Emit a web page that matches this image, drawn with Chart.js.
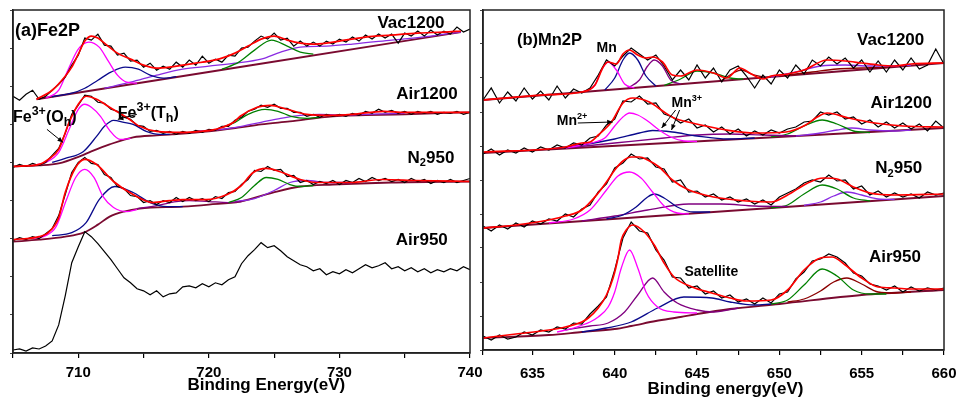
<!DOCTYPE html>
<html>
<head>
<meta charset="utf-8">
<script src="https://cdn.jsdelivr.net/npm/chart.js@4.4.1/dist/chart.umd.min.js"></script>
<style>
  body { margin: 0; background: #fff; }
  canvas { position: absolute; left: 0; top: 0; }
</style>
</head>
<body>
<canvas id="fe" width="972" height="398"></canvas>
<canvas id="mn" width="972" height="398"></canvas>
<script>
// ---------- Fe 2p (left panel) ----------
const feEnergy = [705,705.5,706,706.5,707,707.5,708,708.5,709,709.5,
  710,710.5,711,711.5,712,712.5,713,713.5,714,714.5,
  715,715.5,716,716.5,717,717.5,718,718.5,719,719.5,
  720,720.5,721,721.5,722,722.5,723,723.5,724,724.5,
  725,725.5,726,726.5,727,727.5,728,728.5,729,729.5,
  730,730.5,731,731.5,732,732.5,733,733.5,734,734.5,
  735,735.5,736,736.5,737,737.5,738,738.5,739,739.5,740];
const feVac1200 = [256,252,258,262,253,256,262,268,275,287,
  297,314,312,318,307,306,297,299,291,292,
  285,289,282,286,283,290,285,292,287,296,
  289,293,290,297,296,304,305,311,316,313,
  319,312,314,306,311,306,310,306,311,308,
  313,310,315,311,317,313,318,314,318,309,
  319,316,321,316,322,317,321,318,325,320,323];
const feAir1200 = [185,188,186,189,187,190,197,204,219,238,
  247,257,256,250,249,243,241,235,233,227,
  226,221,222,219,221,218,221,219,222,220,
  223,222,226,226,232,235,241,243,247,245,
  248,244,244,240,240,236,238,235,238,236,
  238,236,239,237,241,239,243,240,242,239,
  241,238,241,239,241,238,240,239,241,238,240];
const feN2950 = [112,115,113,116,114,119,124,137,158,180,
  190,195,189,188,178,175,166,164,157,156,
  150,152,148,152,150,155,151,155,152,154,
  151,156,154,160,161,168,173,182,181,186,
  182,183,176,177,170,172,168,171,169,172,
  168,172,170,174,171,175,172,174,171,173,
  170,174,171,173,169,172,170,173,170,172,174];
const feAir950 = [3,4,2,5,4,7,12,28,57,90,
  106,121,116,109,101,93,84,75,70,64,
  62,58,62,56,59,60,66,67,65,69,
  66,70,68,73,76,89,97,103,110,105,
  107,102,96,92,88,86,82,84,78,81,
  79,83,80,84,88,85,87,90,84,86,
  82,85,81,84,80,83,81,84,82,86,83];

// fitted curves [energy, intensity]
const vacFeFit = [[706.8,253],[708,262],[709,276],[709.5,285],[710,298],[710.5,311],[711,316],[711.5,314],[712,309],[713,299],[714,293],[715,287],[716,284],[717,285],[718,287],[719,289],[720,291],[721,294],[722,299],[723,306],[724,313],[725,316],[726,312],[727,309],[728,308],[729,309],[730,311],[732,315],[734,317],[736,319],[738,320],[739.3,321]];
const vacFeBase = [[706.8,253],[723,286.4],[739.3,320]];
const vacFeOh = [[707.5,254],[708.5,262],[709.2,282],[710,303],[710.8,310],[711.6,305],[712.3,291],[713,277],[713.7,270],[714.5,269]];
const vacFeTh = [[708,255.5],[709.5,259],[710.5,264],[711.5,272],[712.5,280],[713.6,285],[714.6,283],[715.5,277],[716.5,274],[717.5,275.5]];
const vacFeSat = [[712,264],[714,270],[716,277],[718,283],[720,286],[722,289],[724,293],[725.5,300],[727,305],[729,306],[731,308],[734,312],[737,316],[739.3,320]];
const vacFeP12 = [[721,283],[722.3,290],[723.5,302],[724.8,312],[726,306],[727,300],[728,298]];

const airFeFit = [[705,186],[707,188],[707.7,193],[708.5,203],[709.3,230],[710,248],[710.6,256],[711.4,253],[712.4,245],[713.7,235],[714.7,226],[716,221],[718,220],[719.3,221],[720.5,223],[721.9,230],[722.4,236],[723.7,245],[724.7,247],[726,243],[727.5,238],[729.5,237],[731,238],[733.4,241],[735,240],[737,240],[740,240]];
const airFeBase = [[705,186],[707,187],[708.5,189],[710.1,196],[711,201],[712.4,208],[714.2,215],[716,217],[717.2,218],[720,221],[722.4,225],[724,228],[726.2,231],[729.5,236],[735,238],[740,240]];
const airFeOh = [[706.5,187],[707.5,190],[708.5,200],[709.3,223],[710,243],[710.5,248],[711,245],[711.7,236],[712.4,222],[713.2,213],[714,214]];
const airFeTh = [[708,190],[709,194],[710.4,201],[711.4,216],[712,226],[712.7,232],[713.5,230],[714.2,228],[715.2,221],[716.2,218],[717,218]];
const airFeP12 = [[721,225],[722,230],[723,238],[724.3,243],[725.3,241],[726.3,236],[727.5,234],[728.5,235]];
const airFeSat = [[719,221],[721,223],[722.5,226],[724,230],[725.5,234],[727,237],[728.5,238],[730,237.5],[732,238],[735,239]];

const n2FeFit = [[705,113],[707,116],[707.7,120],[708.5,135],[709,160],[709.8,185],[710.5,193],[711.4,188],[712.7,171],[714.2,158],[715.7,150],[717,152],[718,153],[719.8,153],[721.4,158],[722.4,166],[723.4,180],[724.4,184],[725.4,181],[727,173],[728.2,170],[730.8,170],[733.3,173],[735.9,172],[740,171]];
const n2FeBase = [[705,111],[707,113],[709,116],[710.4,120],[711.5,128],[712.4,136],[713.5,141],[714.7,144],[718,146],[720,148],[722.4,151],[724.9,160],[727,166],[729.5,168],[734,170],[740,171]];
const n2FeOh = [[706.5,114],[707.5,117],[708.3,126],[709.1,153],[709.8,175],[710.5,183],[711.2,175],[711.9,156],[712.7,145],[713.7,141],[714.5,143]];
const n2FeTh = [[708,117],[709.5,120],[710.6,130],[711.6,153],[712.8,166],[714.2,160],[715.5,150],[716.8,146],[718,146]];
const n2FeSat1 = [[714.5,144],[716,147],[717.5,151],[718.5,152],[720,151],[721.5,150],[722.5,151]];
const n2FeP12 = [[721.5,150],[722.5,155],[723.5,167],[724.4,175],[725.3,173],[726.2,168],[727,166],[728,167]];
const n2FeSat2 = [[722,151],[723.5,154],[725,162],[726.2,170],[727.5,172],[729,170],[731,170]];

// ---------- Mn 2p (right panel) ----------
const mnEnergy = [632,632.5,633,633.5,634,634.5,635,635.5,636,636.5,
  637,637.5,638,638.5,639,639.5,640,640.5,641,641.5,
  642,642.5,643,643.5,644,644.5,645,645.5,646,646.5,
  647,647.5,648,648.5,649,649.5,650,650.5,651,651.5,
  652,652.5,653,653.5,654,654.5,655,655.5,656,656.5,
  657,657.5,658,658.5,659,659.5,660];
const mnVac1200 = [250,262,247,258,249,262,251,259,250,264,
  252,261,257,262,275,290,284,294,302,296,
  290,295,284,270,280,270,285,272,282,268,
  280,284,274,262,275,266,280,272,285,276,
  290,284,293,286,292,282,290,278,289,278,
  290,280,292,281,285,301,286];
const mnAir1200 = [196,201,195,200,197,202,198,203,200,205,
  202,207,205,212,214,225,231,249,248,254,
  246,247,236,233,227,231,222,225,218,223,
  216,221,214,219,215,220,217,221,223,228,
  229,238,235,238,231,233,226,230,223,228,
  222,227,221,226,219,229,222];
const mnN2950 = [124,119,125,121,127,123,129,126,131,129,
  136,133,141,145,158,166,182,187,196,191,
  192,183,181,168,170,158,159,153,156,150,
  153,148,151,146,150,145,153,157,161,167,
  170,168,175,169,170,161,164,155,159,153,
  157,153,156,152,158,155,157];
const mnAir950 = [14,10,15,11,13,18,15,20,18,23,
  21,27,26,36,44,53,80,112,128,119,
  117,100,90,73,72,62,64,56,59,52,
  55,48,51,46,52,47,56,58,71,78,
  89,91,96,93,87,77,74,66,64,60,
  64,58,63,59,62,60,62];

const vacMnFit = [[632,250],[636,255.3],[638,258],[638.8,265],[639.3,283],[639.6,288],[640.1,286],[640.5,296],[640.9,300],[641.4,295],[641.9,292],[642.3,293],[642.9,288],[643.5,275],[644,274],[645,280],[646,277],[646.8,272],[647.6,282],[648.3,276],[649,271],[649.5,274],[650.5,276],[651.5,280],[652.9,290],[654,289],[655,287],[656,285],[657,284],[658,286],[660,287]];
const vacMnBase = [[632,250],[646,268.5],[660,287]];
const vacMnMetal = [[638,258],[638.8,265],[639.2,280],[639.6,288],[640.1,280],[640.6,266],[641.2,262]];
const vacMnP1 = [[639.4,260],[640,272],[640.5,290],[640.9,297],[641.4,290],[641.9,274],[642.5,264]];
const vacMnP2 = [[640.8,262],[641.5,270],[642,284],[642.4,290],[642.9,284],[643.4,270],[644,266]];
const vacMnSat = [[643,264.5],[644,271],[645,279],[646,277],[647,272],[647.8,271]];
const vacMnSat2 = [[646.5,269.5],[647.2,277],[647.7,280],[648.3,276],[649,273]];
const vacMnP12a = [[649.5,273],[651,278],[652.5,284],[654,285],[655.5,284],[657,284],[658,285]];
const vacMnP12b = [[650,274],[652,278],[653.5,281],[655,282],[656.5,283],[658,285]];

const a12MnFit = [[632,198],[636,201],[637,203],[638,207],[638.5,208],[639,215],[639.8,228],[640.5,247],[641.1,252],[642.1,248],[643,238],[643.6,232],[644.7,227],[646.8,220],[648.5,217],[650.4,218],[651.6,225],[652.3,233],[652.9,237],[654.2,232],[655.8,227],[657.5,224],[660,223]];
const a12MnBase = [[632,197],[646,209.5],[660,222]];
const a12MnP2 = [[637,202],[638,205],[638.8,208],[639.4,212],[640,224],[640.5,233],[640.9,237],[641.4,235],[642,229],[642.7,220],[643.4,213],[644.2,209],[645,208.5]];
const a12MnP3 = [[636,201],[638,205],[640,211],[641.5,217],[642.3,219.5],[643.5,218],[645,214],[646.9,211],[648.5,212]];
const a12MnSat = [[637,202],[640,207],[643,212],[645,215],[647,216],[649,215],[651,214]];
const a12MnP12a = [[649.5,213],[650.5,216],[651.5,224],[652.6,230],[653.5,226],[654.5,219],[655.5,217.5]];
const a12MnP12b = [[651,214],[652.5,217],[653.5,220],[654.4,222],[655.5,220],[657,219],[658,220]];

const n2MnFit = [[632,122],[634,125],[636,130],[637,134],[638,140],[639,157],[639.5,168],[640,180],[640.5,189],[641,193],[641.5,193],[642,190],[642.7,183],[643.5,170],[644.5,160],[646,153],[648,149],[649.5,148],[650.5,155],[651.5,165],[652.3,171],[652.7,172],[653.5,171],[654.5,163],[655.5,157],[657,155],[660,156]];
const n2MnBase = [[632,122],[646,138],[660,154]];
const n2MnP2 = [[636,127],[637.5,131],[638.5,140],[639.5,160],[640.2,174],[640.9,178],[641.6,172],[642.3,158],[643,144],[643.8,137],[644.5,136]];
const n2MnP3 = [[639.5,131],[640.5,135],[641.3,143],[642,153],[642.4,156],[643,152],[643.8,143],[644.8,138],[645.8,138]];
const n2MnSat = [[638,129],[640,134],[642,140],[644.5,146],[646.5,146],[648.5,144],[650.5,143.5]];
const n2MnP12a = [[649.5,142],[650.5,145],[651.5,156],[652.6,165],[653.5,161],[654.5,152],[655.5,149]];
const n2MnP12b = [[651.5,144.5],[652.5,148],[653.3,154],[654.1,158],[655,155],[656,151],[657,150.5]];

const a9MnFit = [[632,12],[634,16],[636,20],[637,23],[638,28],[638.4,32],[639,42],[639.5,55],[639.9,72],[640.2,92],[640.4,110],[640.7,120],[641.1,125],[641.8,118],[642.4,105],[643,87],[643.6,73],[644.7,63],[645.9,57],[647,52],[648,49],[649.5,50],[650.5,60],[651.5,80],[652.5,92],[653.2,93],[654,85],[655,72],[656,63],[657,62],[658,61],[660,61]];
const a9MnBase = [[632,12],[636,15],[638,18],[640,21],[641,24],[642.5,29],[644,33],[645,36],[647,41],[650,46],[655,55],[660,60]];
const a9MnP2 = [[636.5,18],[637.5,22],[638.5,28],[639,33],[639.6,43],[640,58],[640.4,82],[640.9,100],[641.4,82],[641.9,58],[642.6,43],[643.6,38],[645,37]];
const a9MnP3 = [[637,20],[638.5,24],[639.6,27],[640.6,38],[641.4,55],[642.3,72],[643,58],[643.8,47],[645,40],[646,38],[647.5,42]];
const a9MnSat = [[638,18],[639.5,22],[641,28],[642.6,42],[644.2,53],[645.9,52],[647,48],[648.5,45],[649.5,46]];
const a9MnP12a = [[649.5,46],[650.5,50],[651.5,65],[652.6,81],[653.5,74],[654.5,60],[655.5,56],[656.5,56]];
const a9MnP12b = [[650.5,48],[651.5,51],[652.5,59],[653.3,68],[654.1,72],[655,66],[656,58],[657,57],[658,58]];

// colours
const RED = '#ff0000', PINK = '#ff00ff', NAVY = '#0a0a8c', PURPLE = '#800080',
      VIOLET = '#8a2be2', GREEN = '#008000', MAROON = '#7a0a30', BROWN = '#8b0000';
const FONT = '"Liberation Sans", Arial, sans-serif';

function pts(arr) { return arr.map(p => ({ x: p[0], y: p[1] })); }
function raw(energy, vals) { return energy.map((e, i) => ({ x: e, y: vals[i] })); }
function fitLine(arr, color, w) {
  return { data: pts(arr), borderColor: color, borderWidth: w || 1.3, pointRadius: 0, fill: false, cubicInterpolationMode: 'monotone' };
}
function expLine(energy, vals) {
  return { data: raw(energy, vals), borderColor: '#000', borderWidth: 1.2, pointRadius: 0, fill: false, tension: 0 };
}

// text + frame + arrows
const decor = {
  id: 'decor',
  afterDatasetsDraw(chart, args, opts) {
    const { ctx, chartArea: a } = chart;
    const sx = chart.scales.x, sy = chart.scales.y;
    ctx.save();
    ctx.strokeStyle = '#222';
    ctx.lineWidth = 1.5;
    ctx.strokeRect(a.left, a.top, a.right - a.left, a.bottom - a.top);
    ctx.fillStyle = '#000';
    ctx.textBaseline = 'alphabetic';
    opts.labels.forEach(lb => {
      const size = lb.size;
      const small = lb.small || 0.65;
      const pieces = lb.parts.map(p => {
        const kind = p[1] || '';
        const fs = kind ? size * small : size;
        ctx.font = 'bold ' + fs + 'px ' + FONT;
        return { t: p[0], kind: kind, fs: fs, w: ctx.measureText(p[0]).width };
      });
      const total = pieces.reduce((s, p) => s + p.w, 0);
      let px = sx.getPixelForValue(lb.e);
      if (lb.align === 'right') px -= total;
      const base = sy.getPixelForValue(lb.v) + size * 0.36;
      pieces.forEach(p => {
        ctx.font = 'bold ' + p.fs + 'px ' + FONT;
        let y = base;
        if (p.kind === 'sup') y -= size * 0.42;
        if (p.kind === 'sub') y += size * 0.22;
        ctx.fillText(p.t, px, y);
        px += p.w;
      });
    });
    ctx.lineWidth = 1;
    ctx.strokeStyle = '#000';
    opts.arrows.forEach(ar => {
      const x0 = sx.getPixelForValue(ar[0][0]), y0 = sy.getPixelForValue(ar[0][1]);
      const x1 = sx.getPixelForValue(ar[1][0]), y1 = sy.getPixelForValue(ar[1][1]);
      const ang = Math.atan2(y1 - y0, x1 - x0);
      ctx.beginPath(); ctx.moveTo(x0, y0); ctx.lineTo(x1, y1); ctx.stroke();
      ctx.beginPath();
      ctx.moveTo(x1, y1);
      ctx.lineTo(x1 - 6 * Math.cos(ang - 0.4), y1 - 6 * Math.sin(ang - 0.4));
      ctx.lineTo(x1 - 6 * Math.cos(ang + 0.4), y1 - 6 * Math.sin(ang + 0.4));
      ctx.closePath(); ctx.fill();
    });
    ctx.font = 'bold 17px ' + FONT;
    ctx.textAlign = 'center';
    ctx.fillText(opts.title, sx.getPixelForValue(opts.titleAt), a.bottom + opts.titleDy);
    ctx.restore();
  }
};

function makeOptions(o) {
  return {
    responsive: false,
    animation: false,
    events: [],
    layout: { padding: o.padding },
    plugins: { legend: { display: false }, tooltip: { enabled: false }, decor: o.decor },
    scales: {
      x: {
        type: 'linear', min: o.xmin, max: o.xmax,
        ticks: {
          stepSize: o.xstep, autoSkip: false, maxRotation: 0, color: '#000', padding: o.tickPad,
          font: { family: FONT, size: 15, weight: 'bold' },
          callback: v => (Math.abs(v % o.labelEvery) < 1e-6 ? String(v) : '')
        },
        grid: { drawOnChartArea: false, tickLength: 5, color: '#000', lineWidth: 1.2 },
        border: { color: '#222', width: 1.5 },
        afterFit: s => { s.height = o.xHeight; }
      },
      y: {
        min: 0, max: o.ymax,
        ticks: { display: false, stepSize: o.ystep },
        grid: { drawOnChartArea: false, tickLength: 3, color: '#444', lineWidth: 1 },
        border: { color: '#222', width: 1.5 },
        afterFit: s => { s.width = 4; }
      }
    }
  };
}

new Chart(document.getElementById('fe'), {
  type: 'line',
  data: {
    datasets: [
      fitLine(vacFeFit, RED, 1.7), fitLine(airFeFit, RED, 1.7), fitLine(n2FeFit, RED, 1.7),
      expLine(feEnergy, feVac1200), expLine(feEnergy, feAir1200), expLine(feEnergy, feN2950), expLine(feEnergy, feAir950),
      fitLine(vacFeOh, PINK), fitLine(vacFeTh, NAVY), fitLine(vacFeP12, GREEN), fitLine(vacFeSat, VIOLET),
      fitLine(airFeOh, PINK), fitLine(airFeTh, NAVY), fitLine(airFeP12, GREEN), fitLine(airFeSat, VIOLET),
      fitLine(n2FeOh, PINK), fitLine(n2FeTh, NAVY), fitLine(n2FeP12, GREEN), fitLine(n2FeSat1, PURPLE), fitLine(n2FeSat2, VIOLET),
      fitLine(vacFeBase, MAROON, 1.8), fitLine(airFeBase, MAROON, 1.8), fitLine(n2FeBase, MAROON, 1.8)
    ]
  },
  options: makeOptions({
    padding: { left: 9, right: 502, top: 10, bottom: 0 },
    xmin: 705, xmax: 740, xstep: 5, labelEvery: 10, tickPad: 6, xHeight: 45,
    ymax: 342, ystep: 38,
    decor: {
      title: 'Binding Energy(eV)', titleAt: 724.4, titleDy: 37,
      labels: [
        { e: 705.15, v: 323, align: 'left', size: 18, parts: [['(a)Fe2P']] },
        { e: 738.05, v: 330, align: 'right', size: 17, parts: [['Vac1200']] },
        { e: 739.05, v: 259, align: 'right', size: 17, parts: [['Air1200']] },
        { e: 738.8, v: 196, align: 'right', size: 17, parts: [['N'], ['2', 'sub'], ['950']] },
        { e: 738.3, v: 114, align: 'right', size: 17, parts: [['Air950']] },
        { e: 705.0, v: 236, align: 'left', size: 16, small: 0.78, parts: [['Fe'], ['3+', 'sup'], ['(O'], ['h', 'sub'], [')']] },
        { e: 713.03, v: 240, align: 'left', size: 16, small: 0.78, parts: [['Fe'], ['3+', 'sup'], ['(T'], ['h', 'sub'], [')']] }
      ],
      arrows: [ [[707.6, 223], [708.83, 210]], [[714.49, 238], [713.03, 233]] ]
    }
  }),
  plugins: [decor]
});

new Chart(document.getElementById('mn'), {
  type: 'line',
  data: {
    datasets: [
      fitLine(vacMnFit, RED, 1.7), fitLine(a12MnFit, RED, 1.7), fitLine(n2MnFit, RED, 1.7), fitLine(a9MnFit, RED, 1.7),
      expLine(mnEnergy, mnVac1200), expLine(mnEnergy, mnAir1200), expLine(mnEnergy, mnN2950), expLine(mnEnergy, mnAir950),
      fitLine(vacMnMetal, PINK), fitLine(vacMnP1, NAVY), fitLine(vacMnP2, PURPLE), fitLine(vacMnSat, GREEN),
      fitLine(vacMnSat2, BROWN), fitLine(vacMnP12a, VIOLET), fitLine(vacMnP12b, BROWN),
      fitLine(a12MnP2, PINK), fitLine(a12MnP3, NAVY), fitLine(a12MnSat, PURPLE), fitLine(a12MnP12a, GREEN), fitLine(a12MnP12b, VIOLET),
      fitLine(n2MnP2, PINK), fitLine(n2MnP3, NAVY), fitLine(n2MnSat, PURPLE), fitLine(n2MnP12a, GREEN), fitLine(n2MnP12b, VIOLET),
      fitLine(a9MnP2, PINK), fitLine(a9MnP3, PURPLE), fitLine(a9MnSat, NAVY), fitLine(a9MnP12a, GREEN), fitLine(a9MnP12b, BROWN),
      fitLine(vacMnBase, MAROON, 1.8), fitLine(a12MnBase, MAROON, 1.8), fitLine(n2MnBase, MAROON, 1.8), fitLine(a9MnBase, MAROON, 1.8)
    ]
  },
  options: makeOptions({
    padding: { left: 479, right: 28, top: 10, bottom: 0 },
    xmin: 632, xmax: 660, xstep: 2.5, labelEvery: 5, tickPad: 10, xHeight: 48,
    ymax: 340, ystep: 34,
    decor: {
      title: 'Binding energy(eV)', titleAt: 646.73, titleDy: 44,
      labels: [
        { e: 634.06, v: 311, align: 'left', size: 16.5, parts: [['(b)Mn2P']] },
        { e: 638.9, v: 303, align: 'left', size: 14, parts: [['Mn']] },
        { e: 658.8, v: 311, align: 'right', size: 17, parts: [['Vac1200']] },
        { e: 659.27, v: 248, align: 'right', size: 17, parts: [['Air1200']] },
        { e: 636.48, v: 230, align: 'left', size: 14, parts: [['Mn'], ['2+', 'sup']] },
        { e: 643.45, v: 248, align: 'left', size: 14, parts: [['Mn'], ['3+', 'sup']] },
        { e: 658.67, v: 183, align: 'right', size: 17, parts: [['N'], ['2', 'sub'], ['950']] },
        { e: 658.6, v: 94, align: 'right', size: 17, parts: [['Air950']] },
        { e: 644.24, v: 79, align: 'left', size: 14, parts: [['Satellite']] }
      ],
      arrows: [ [[637.76, 227], [639.88, 228]], [[643.7, 240], [642.85, 222]], [[643.94, 240], [643.45, 220]] ]
    }
  }),
  plugins: [decor]
});
</script>
</body>
</html>
